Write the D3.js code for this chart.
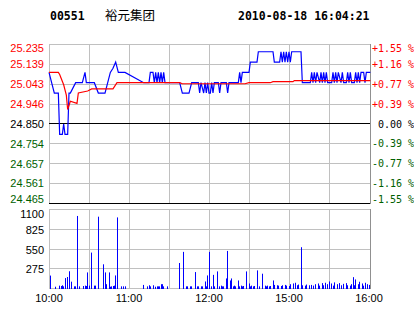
<!DOCTYPE html>
<html>
<head>
<meta charset="utf-8">
<script src="https://cdn.jsdelivr.net/npm/d3@7"></script>
<style>
  body { margin: 0; background: #fff; }
  text { white-space: pre; }
</style>
</head>
<body>
<script>
// header
const stockCode = '00551';
const stockName = '裕元集团';
const stamp = '2010-08-18 16:04:21';

// axis labels
const priceTicks = ['25.235', '25.139', '25.043', '24.946', '24.850', '24.754', '24.657', '24.561', '24.465'];
const pctTicks = ['+1.55 %', '+1.16 %', '+0.77 %', '+0.39 %', ' 0.00 %', '-0.39 %', '-0.77 %', '-1.16 %', '-1.55 %'];
const volTicks = [275, 550, 825, 1100];
const timeMinutes = [0, 60, 120, 180, 240];
const timeLabels = ['10:00', '11:00', '12:00', '15:00', '16:00'];
const gridMinutes = [30, 60, 90, 120, 150, 180, 210];
const prevClose = 24.85;

// price line vertices: [trading minute, price]
const price = [
  [0, 25.10], [4, 25.00], [7, 25.00], [8, 24.80], [10, 24.80], [11, 24.85], [12, 24.80], [14, 24.80],
  [15, 25.00], [16, 25.00], [20, 25.05], [25, 25.05], [27, 25.10], [28, 25.05], [34, 25.05], [37, 25.00],
  [42, 25.00], [46, 25.10], [48, 25.12], [50, 25.15], [52, 25.10], [57, 25.10], [71, 25.05], [75, 25.05],
  [76, 25.10], [78, 25.10], [79, 25.05], [80, 25.10], [81, 25.05], [82, 25.10], [83, 25.05], [84, 25.10],
  [85, 25.05], [86, 25.10], [87, 25.05], [98, 25.05], [100, 25.00], [105, 25.00], [107, 25.05], [112, 25.05],
  [113, 25.00], [114, 25.05], [116, 25.00], [117, 25.05], [118, 25.00], [119, 25.05], [120, 25.00], [121, 25.00],
  [122, 25.05], [123, 25.00], [124, 25.05], [127, 25.05], [128, 25.00], [129, 25.05], [133, 25.05], [134, 25.00],
  [135, 25.05], [142, 25.05], [143, 25.10], [144, 25.05], [145, 25.10], [150, 25.10], [151, 25.15], [156, 25.15],
  [157, 25.20], [168, 25.20], [169, 25.15], [173, 25.15], [174, 25.20], [175, 25.15], [176, 25.20], [177, 25.15],
  [178, 25.20], [179, 25.15], [180, 25.20], [181, 25.15], [182, 25.20], [189, 25.20], [190, 25.05], [196, 25.05],
  [197, 25.10], [198, 25.05], [199, 25.10], [200, 25.05], [201, 25.10], [203, 25.05], [204, 25.10], [205, 25.05],
  [206, 25.10], [207, 25.05], [208, 25.10], [209, 25.05], [212, 25.05], [213, 25.10], [214, 25.05], [215, 25.10],
  [216, 25.05], [217, 25.10], [219, 25.05], [220, 25.10], [221, 25.05], [223, 25.05], [224, 25.10], [225, 25.05],
  [226, 25.10], [227, 25.05], [229, 25.05], [230, 25.10], [231, 25.05], [232, 25.10], [233, 25.05], [234, 25.10],
  [236, 25.10], [237, 25.05], [238, 25.10], [241, 25.10]
];

// average price vertices
const average = [
  [0, 25.10], [7, 25.10], [8, 25.09], [11, 25.04], [13, 24.99], [14, 24.92], [16, 24.96], [21, 24.95],
  [22, 25.00], [29, 25.01], [32, 25.02], [48, 25.02], [51, 25.05], [98, 25.05], [100, 25.045], [147, 25.045],
  [150, 25.05], [166, 25.05], [168, 25.055], [183, 25.055], [184, 25.06], [241, 25.06]
];

// volume per minute: [trading minute, shares]
const volume = [
  [1, 180], [5, 25], [8, 40], [9, 35], [10, 45], [11, 30], [12, 145], [14, 160], [15, 240], [17, 95],
  [19, 30], [20, 30], [21, 1010], [23, 30], [26, 35], [27, 40], [28, 35], [29, 224], [30, 40], [32, 500],
  [34, 40], [35, 40], [37, 1000], [41, 337], [42, 224], [43, 60], [45, 224], [46, 25], [47, 30], [48, 35],
  [49, 40], [50, 182], [51, 990], [54, 30], [56, 30], [57, 30],
  [71, 50], [74, 30], [75, 45], [76, 30], [78, 45], [80, 25], [81, 30], [82, 30], [83, 30], [84, 60],
  [85, 60], [86, 30], [89, 30],
  [98, 355], [101, 510], [103, 30], [104, 30], [106, 30], [107, 30], [110, 229], [111, 30], [112, 30],
  [114, 30], [115, 30], [117, 98], [118, 30], [119, 182], [120, 510], [122, 30], [123, 190], [124, 30],
  [126, 238], [128, 30], [129, 40], [130, 30], [131, 30], [133, 140], [134, 523], [136, 112], [137, 140],
  [138, 30], [139, 40], [140, 30], [142, 112], [143, 30], [144, 40], [145, 30], [146, 35], [148, 238],
  [150, 70], [151, 30], [152, 40], [153, 30], [154, 35], [156, 252], [158, 30], [160, 206], [162, 40],
  [163, 30], [164, 40], [165, 30], [166, 35], [168, 112], [169, 50], [171, 45],
  [172, 40], [174, 35], [175, 45], [177, 50], [178, 40], [180, 35], [181, 60], [183, 70], [185, 80],
  [186, 45], [187, 55], [189, 575], [190, 45], [192, 40], [193, 55], [195, 45], [197, 50], [198, 40],
  [200, 60], [202, 70], [203, 40], [205, 75], [206, 45], [207, 80], [209, 60], [210, 98], [212, 70],
  [213, 40], [214, 85], [216, 60], [218, 75], [219, 45], [221, 65], [223, 75], [224, 45], [226, 40],
  [227, 60], [228, 158], [229, 45], [230, 126], [232, 60], [233, 94], [235, 70], [236, 40], [237, 80],
  [239, 60], [240, 50]
];

const width = 414;
const height = 314;
const left = 49;
const right = 371;
const gridColor = '#c0c0c0';
const upColor = '#ff0000';
const downColor = '#006000';

const svg = d3.select('body').append('svg')
    .attr('width', width)
    .attr('height', height)
    .style('display', 'block');

const x = d3.scaleLinear().domain([0, 240]).range([49, 369]);
const y = d3.scaleLinear().domain([+priceTicks[8], +priceTicks[0]]).range([203.5, 44.5]);
const yVol = d3.scaleLinear().domain([0, 1100]).range([288.5, 209.5]);
const px = v => Math.floor(v) + 0.5;

// header
svg.append('text').attr('x', 50).attr('y', 20)
    .attr('font-family', 'DejaVu Sans Mono').attr('font-weight', 'bold').attr('font-size', 11.5)
    .text(stockCode);
svg.append('text').attr('x', 105).attr('y', 20)
    .attr('font-family', 'Noto Sans CJK SC').attr('font-size', 12.5)
    .text(stockName);
svg.append('text').attr('x', 238).attr('y', 20)
    .attr('font-family', 'DejaVu Sans Mono').attr('font-weight', 'bold').attr('font-size', 11.5)
    .text(stamp);

// price panel grid
svg.append('g').selectAll('line')
    .data(priceTicks.slice(0, 8))
.enter().append('line')
    .attr('x1', left).attr('x2', right)
    .attr('y1', d => px(y(+d))).attr('y2', d => px(y(+d)))
    .attr('stroke', gridColor);

svg.append('g').selectAll('line')
    .data(gridMinutes)
.enter().append('line')
    .attr('x1', d => px(x(d))).attr('x2', d => px(x(d)))
    .attr('y1', y(+priceTicks[0])).attr('y2', y(+priceTicks[8]))
    .attr('stroke', gridColor);

svg.append('line').attr('x1', px(left)).attr('x2', px(left))
    .attr('y1', 44).attr('y2', 204).attr('stroke', gridColor);
svg.append('line').attr('x1', px(right - 1)).attr('x2', px(right - 1))
    .attr('y1', 44).attr('y2', 204).attr('stroke', '#909090');

// prev close and bottom lines
svg.append('line').attr('x1', left).attr('x2', right - 1)
    .attr('y1', px(y(prevClose))).attr('y2', px(y(prevClose)))
    .attr('stroke', '#000');
svg.append('line').attr('x1', left).attr('x2', right - 1)
    .attr('y1', px(y(+priceTicks[8]))).attr('y2', px(y(+priceTicks[8])))
    .attr('stroke', '#000');

// price labels
const labelY = (v, lo, hi) => Math.max(lo, Math.min(hi, v));
const tickColor = i => i < 4 ? upColor : (i === 4 ? '#000' : downColor);

svg.append('g').selectAll('text')
    .data(priceTicks)
.enter().append('text')
    .attr('x', 44)
    .attr('y', d => labelY(y(+d), 48, 199.5) + 3.8)
    .attr('text-anchor', 'end')
    .attr('font-family', 'Liberation Sans').attr('font-size', 11)
    .attr('fill', (d, i) => tickColor(i))
    .text(d => d);

svg.append('g').selectAll('text')
    .data(pctTicks)
.enter().append('text')
    .attr('x', 372)
    .attr('y', (d, i) => labelY(y(+priceTicks[i]), 48, 199.5) + 3.6)
    .attr('font-family', 'DejaVu Sans Mono').attr('font-size', 10)
    .attr('fill', (d, i) => tickColor(i))
    .text(d => d);

// lines
const line = d3.line().x(d => x(d[0])).y(d => y(d[1]));
svg.append('path').datum(price)
    .attr('d', line).attr('fill', 'none')
    .attr('stroke', '#0000ff').attr('stroke-width', 1.2);
svg.append('path').datum(average)
    .attr('d', line).attr('fill', 'none')
    .attr('stroke', '#ff0000').attr('stroke-width', 1.2);

// volume panel grid
svg.append('g').selectAll('line')
    .data([0].concat(volTicks))
.enter().append('line')
    .attr('x1', left).attr('x2', right)
    .attr('y1', d => px(yVol(d))).attr('y2', d => px(yVol(d)))
    .attr('stroke', gridColor);

svg.append('g').selectAll('line')
    .data(gridMinutes)
.enter().append('line')
    .attr('x1', d => px(x(d))).attr('x2', d => px(x(d)))
    .attr('y1', yVol(1100)).attr('y2', yVol(0))
    .attr('stroke', gridColor);

svg.append('line').attr('x1', px(left)).attr('x2', px(left))
    .attr('y1', 209).attr('y2', 289).attr('stroke', gridColor);
svg.append('line').attr('x1', px(right - 1)).attr('x2', px(right - 1))
    .attr('y1', 209).attr('y2', 289).attr('stroke', '#909090');

svg.append('g').selectAll('rect')
    .data(volume)
.enter().append('rect')
    .attr('x', d => Math.floor(x(d[0])))
    .attr('width', 1)
    .attr('y', d => yVol(d[1]))
    .attr('height', d => yVol(0) - yVol(d[1]) + 0.5)
    .attr('fill', '#0000ff');

svg.append('g').selectAll('text')
    .data(volTicks)
.enter().append('text')
    .attr('x', 44)
    .attr('y', d => labelY(yVol(d), 213, 300) + 4.5)
    .attr('text-anchor', 'end')
    .attr('font-family', 'Liberation Sans').attr('font-size', 11)
    .text(d => d);

// time labels
svg.append('g').selectAll('text')
    .data(timeMinutes)
.enter().append('text')
    .attr('x', d => x(d))
    .attr('y', 302)
    .attr('text-anchor', 'middle')
    .attr('font-family', 'Liberation Sans').attr('font-size', 11)
    .text((d, i) => timeLabels[i]);
</script>
</body>
</html>
